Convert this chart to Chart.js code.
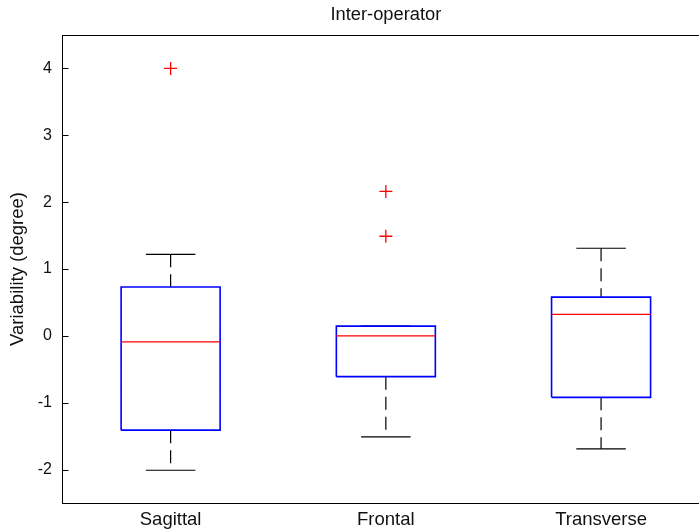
<!DOCTYPE html>
<html>
<head>
<meta charset="utf-8">
<title>Inter-operator</title>
<script src="https://cdn.jsdelivr.net/npm/chart.js@4.4.1/dist/chart.umd.min.js"></script>
<style>
  html, body { margin: 0; padding: 0; background: #fff; overflow: hidden; }
  #boxChart { display: block; }
</style>
</head>
<body>
<canvas id="boxChart" width="699" height="532"></canvas>
<script>
// boxplot values (degrees)
const categories = ["Sagittal", "Frontal", "Transverse"];
const lowerWhisker = [-2.01, -1.51, -1.69];
const lowerQuartile = [-1.41, -0.61, -0.92];
const medians = [-0.09, 0.0, 0.32];
const upperQuartile = [0.73, 0.145, 0.58];
const upperWhisker = [1.22, 0.145, 1.31];
const outliers = [[4.0], [2.16, 1.49], []];
const yTicks = [-2, -1, 0, 1, 2, 3, 4];

const boxHalf = 0.23; // half of box width, in category units
const capHalf = boxHalf / 2;
// the figure is cropped: the axes (0.5 .. 3.5) run a bit past the right edge
const xMaxVisible = 3.455;
const FONT = "'Liberation Sans', Arial, Helvetica, sans-serif";

// build the pieces of each box from the arrays above
const boxData = [];
const medianData = [];
const whiskerData = [];
const capData = [];
const outlierData = [];
categories.forEach((c, i) => {
  const x = i + 1;
  boxData.push(
    { x: x - boxHalf, y: lowerQuartile[i] }, { x: x + boxHalf, y: lowerQuartile[i] },
    { x: x + boxHalf, y: upperQuartile[i] }, { x: x - boxHalf, y: upperQuartile[i] },
    { x: x - boxHalf, y: lowerQuartile[i] }, { x: x, y: null }
  );
  medianData.push({ x: x - boxHalf, y: medians[i] }, { x: x + boxHalf, y: medians[i] }, { x: x, y: null });
  // both whiskers are drawn top to bottom
  whiskerData.push(
    { x: x, y: upperWhisker[i] }, { x: x, y: upperQuartile[i] }, { x: x, y: null },
    { x: x, y: lowerQuartile[i] }, { x: x, y: lowerWhisker[i] }, { x: x, y: null }
  );
  capData.push(
    { x: x - capHalf, y: upperWhisker[i] }, { x: x + capHalf, y: upperWhisker[i] }, { x: x, y: null },
    { x: x - capHalf, y: lowerWhisker[i] }, { x: x + capHalf, y: lowerWhisker[i] }, { x: x, y: null }
  );
  outliers[i].forEach((v) => outlierData.push({ x: x, y: v }));
});

// axes box, inward y ticks and title centred over the axes (like matlab)
const frameAndTitle = {
  id: "frameAndTitle",
  afterDatasetsDraw(chart) {
    const a = chart.chartArea;
    const ctx = chart.ctx;
    const yScale = chart.scales.y;
    ctx.save();
    ctx.strokeStyle = "#000";
    ctx.lineWidth = 1;
    const left = Math.round(a.left) - 0.5;
    ctx.strokeRect(left, Math.round(a.top) + 0.5, Math.round(a.right - a.left) + 1, Math.round(a.bottom - a.top));
    ctx.beginPath();
    yTicks.forEach((v) => {
      const py = Math.round(yScale.getPixelForValue(v)) + 0.5;
      ctx.moveTo(left, py);
      ctx.lineTo(left + 6, py);
    });
    ctx.stroke();
    ctx.restore();
  },
  afterDraw(chart) {
    const ctx = chart.ctx;
    const xScale = chart.scales.x;
    ctx.save();
    ctx.fillStyle = "#111";
    ctx.font = "18.3px " + FONT;
    ctx.textAlign = "center";
    ctx.textBaseline = "alphabetic";
    // middle of the full 0.5..3.5 axes
    ctx.fillText("Inter-operator", xScale.getPixelForValue((categories.length + 1) / 2), 20);
    ctx.restore();
  },
};

const lineStyle = {
  type: "line",
  pointRadius: 0,
  pointHoverRadius: 0,
  fill: false,
  spanGaps: false,
  tension: 0,
};

new Chart(document.getElementById("boxChart"), {
  type: "scatter",
  data: {
    datasets: [
      {
        ...lineStyle,
        label: "median",
        data: medianData,
        borderColor: "#ff0000",
        borderWidth: 1.3,
      },
      {
        type: "scatter",
        label: "outliers",
        data: outlierData,
        pointStyle: "cross",
        pointRadius: 6.5,
        borderColor: "#ff0000",
        borderWidth: 1.3,
      },
      {
        ...lineStyle,
        label: "box",
        data: boxData,
        borderColor: "#0000ff",
        borderWidth: 1.6,
      },
      {
        ...lineStyle,
        label: "whisker",
        data: whiskerData,
        borderColor: "#000",
        borderWidth: 1.2,
        borderDash: [13, 7],
      },
      {
        ...lineStyle,
        label: "cap",
        data: capData,
        borderColor: "#000",
        borderWidth: 1.2,
      },
    ],
  },
  options: {
    responsive: false,
    animation: false,
    layout: { autoPadding: false, padding: { top: 35, left: 0, right: 0, bottom: 0 } },
    plugins: {
      legend: { display: false },
      tooltip: { enabled: false },
      title: { display: false },
    },
    scales: {
      x: {
        type: "linear",
        offset: false,
        min: 0.5,
        max: xMaxVisible,
        afterBuildTicks: (scale) => {
          scale.ticks = categories.map((c, i) => ({ value: i + 1 }));
        },
        afterFit: (scale) => {
          scale.height = 29;
          scale.paddingLeft = 0;
          scale.paddingRight = 0;
        },
        ticks: {
          autoSkip: false,
          maxRotation: 0,
          padding: 6,
          color: "#111",
          font: { family: FONT, size: 18.5 },
          callback: (value) => categories[value - 1],
        },
        grid: { display: false, drawTicks: false },
        border: { display: false },
      },
      y: {
        type: "linear",
        min: -2.5,
        max: 4.5,
        afterBuildTicks: (scale) => {
          scale.ticks = yTicks.map((v) => ({ value: v }));
        },
        afterFit: (scale) => {
          scale.width = 63;
          scale.paddingTop = 0;
          scale.paddingBottom = 0;
        },
        ticks: {
          padding: 11,
          color: "#111",
          font: { family: FONT, size: 16 },
        },
        grid: { display: false, drawTicks: false },
        border: { display: false },
        title: {
          display: true,
          text: "Variability (degree)",
          color: "#111",
          font: { family: FONT, size: 18.5 },
          padding: { top: 7, bottom: 0 },
        },
      },
    },
  },
  plugins: [frameAndTitle],
});
</script>
</body>
</html>
